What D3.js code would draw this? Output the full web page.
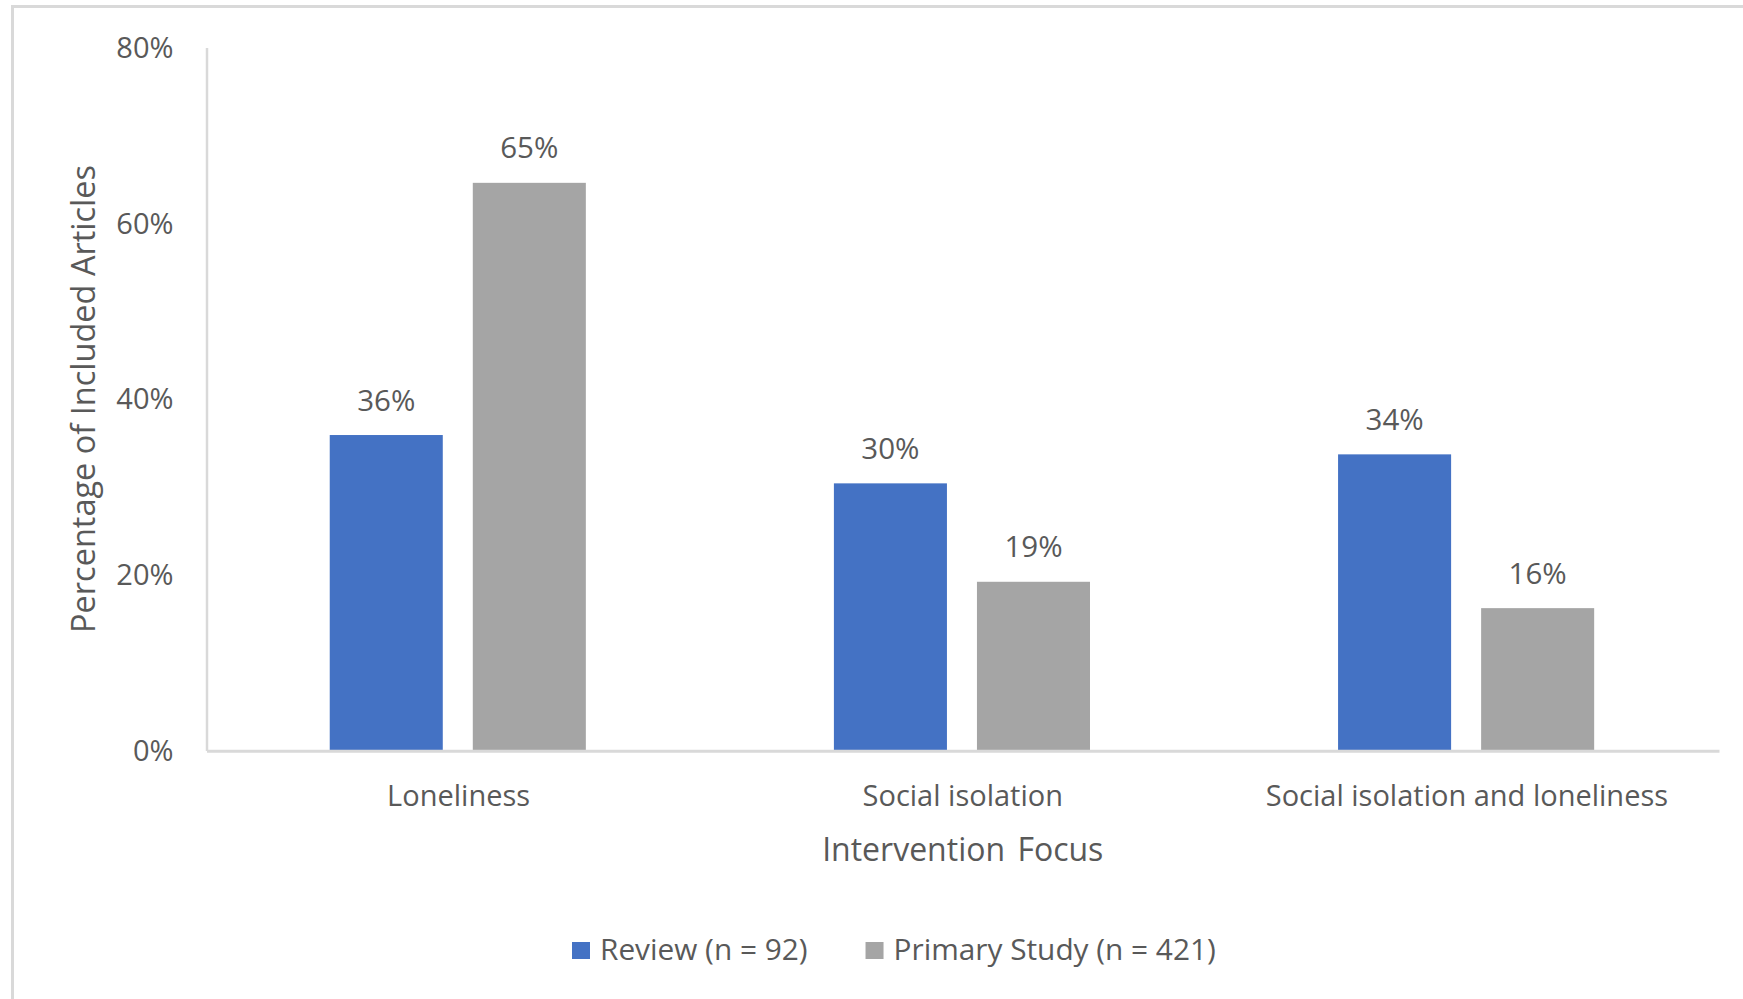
<!DOCTYPE html>
<html>
<head>
<meta charset="utf-8">
<script src="https://cdn.jsdelivr.net/npm/d3@7"></script>
<style>
  html, body { margin: 0; padding: 0; background: #fff; }
  svg { display: block; }
  text { font-family: "Open Sans", "Noto Sans", sans-serif; fill: #595959; }
</style>
</head>
<body>
<svg id="chart" width="1743" height="999"></svg>
<script>
// Intervention focus categories
const categories = ["Loneliness", "Social isolation", "Social isolation and loneliness"];
// Series names (legend)
const seriesNames = ["Review (n = 92)", "Primary Study (n = 421)"];
// Percentage of included articles per category
const reviewPct = [35.9, 30.4, 33.7];
const primaryPct = [64.6, 19.2, 16.2];
// Y axis ticks (percent)
const yTicks = [0, 20, 40, 60, 80];

const colors = ["#4472C4", "#A5A5A5"];
const seriesValues = [reviewPct, primaryPct];

const svg = d3.select("#chart");

// Chart-area frame
svg.append("rect")
  .attr("x", 12.5).attr("y", 6.5)
  .attr("width", 1800).attr("height", 1100)
  .attr("fill", "none").attr("stroke", "#D9D9D9").attr("stroke-width", 3);

const plot = { left: 206.5, right: 1719, top: 47.5, bottom: 750.5 };

const y = d3.scaleLinear().domain([0, 80]).range([plot.bottom, plot.top]);
const x0 = d3.scaleBand().domain(categories).range([plot.left, plot.right]).paddingInner(0).paddingOuter(0);
const x1 = d3.scaleBand().domain(d3.range(seriesNames.length))
  .range([0, x0.bandwidth()]).paddingInner(0.2098).paddingOuter(0.867);

// Bars
const bars = [];
categories.forEach((c, i) => {
  seriesValues.forEach((vals, s) => bars.push({ cat: c, s, v: vals[i] }));
});

svg.append("g").selectAll("rect").data(bars).join("rect")
  .attr("x", d => x0(d.cat) + x1(d.s) - 0.8)
  .attr("y", d => y(d.v))
  .attr("width", x1.bandwidth())
  .attr("height", d => y(0) - y(d.v))
  .attr("fill", d => colors[d.s]);

// Value labels
svg.append("g").selectAll("text").data(bars).join("text")
  .attr("x", d => x0(d.cat) + x1(d.s) - 0.8 + x1.bandwidth() / 2)
  .attr("y", d => y(d.v) - 24.5)
  .attr("text-anchor", "middle")
  .style("font-size", "29.5px")
  .text(d => Math.round(d.v) + "%");

// Y axis
const yAxis = svg.append("g")
  .attr("transform", `translate(${plot.left},0)`)
  .call(d3.axisLeft(y).tickValues(yTicks).tickSize(0).tickPadding(33).tickFormat(d => d + "%"));
yAxis.select(".domain").attr("stroke", "#D9D9D9").attr("stroke-width", 2.5);
yAxis.selectAll("text")
  .style("font-family", '"Open Sans", "Noto Sans", sans-serif')
  .style("font-size", "29px").attr("fill", "#595959").attr("dy", "0.34em");

// X axis
const xAxis = svg.append("g")
  .attr("transform", `translate(0,${plot.bottom + 0.3})`)
  .call(d3.axisBottom(x0).tickSize(0).tickPadding(0));
xAxis.select(".domain").attr("stroke", "#D9D9D9").attr("stroke-width", 3);
xAxis.selectAll("text")
  .style("font-family", '"Open Sans", "Noto Sans", sans-serif')
  .style("font-size", "29px").attr("fill", "#595959")
  .attr("y", 0).attr("dy", 0)
  .attr("transform", "translate(0,55)");

// Axis titles
svg.append("text")
  .attr("x", (plot.left + plot.right) / 2).attr("y", 861)
  .attr("text-anchor", "middle")
  .style("font-size", "32px")
  .style("word-spacing", "4px")
  .text("Intervention Focus");

svg.append("text")
  .attr("transform", `translate(95,${(plot.top + plot.bottom) / 2}) rotate(-90)`)
  .attr("text-anchor", "middle")
  .style("font-size", "32.5px")
  .text("Percentage of Included Articles");

// Legend
const legend = svg.append("g");
let lx = 572;
seriesNames.forEach((name, i) => {
  legend.append("rect")
    .attr("x", lx).attr("y", 942)
    .attr("width", 18).attr("height", 17)
    .attr("fill", colors[i]);
  const t = legend.append("text")
    .attr("x", lx + 28).attr("y", 960)
    .style("font-size", "29.8px")
    .text(name);
  lx += 28 + t.node().getComputedTextLength() + 58;
});
</script>
</body>
</html>
